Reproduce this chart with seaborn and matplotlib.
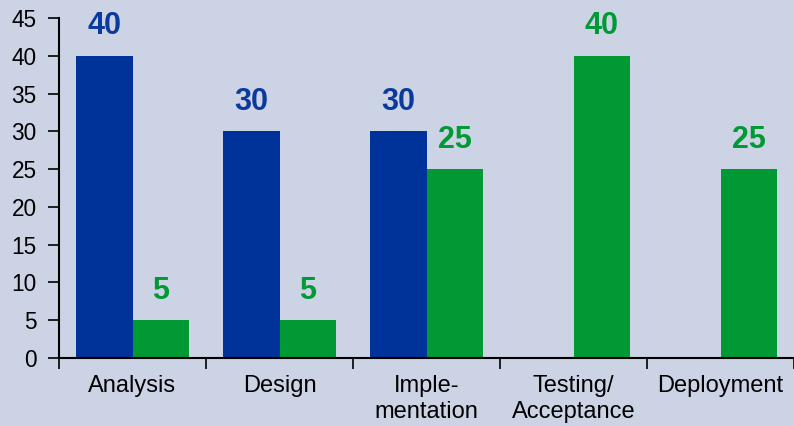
import matplotlib
matplotlib.use("Agg")
import matplotlib.pyplot as plt
import seaborn as sns
import pandas as pd
from matplotlib.ticker import FixedLocator

categories = ["Analysis", "Design", "Imple-\nmentation", "Testing/\nAcceptance", "Deployment"]
series_a = [40, 30, 30, 0, 0]
series_b = [5, 5, 25, 40, 25]
series_names = ["A", "B"]
yticks = [0, 5, 10, 15, 20, 25, 30, 35, 40, 45]

bg = "#CBD3E5"
colors = ["#003399", "#009933"]
label_colors = ["#0A3A9C", "#009933"]

sns.set_theme(style="white")
plt.rcParams["font.family"] = ["Liberation Sans", "DejaVu Sans"]

df = pd.DataFrame({
    "cat": categories * 2,
    "val": series_a + series_b,
    "series": [series_names[0]] * len(categories) + [series_names[1]] * len(categories),
})

fig = plt.figure(figsize=(7.94, 4.26), dpi=100, facecolor=bg)
ax = fig.add_axes([59 / 794, 1 - 358 / 426, 1 - 59 / 794, (358 - 18) / 426])
ax.set_facecolor(bg)

sns.barplot(data=df, x="cat", y="val", hue="series", palette=colors,
            width=0.77, saturation=1, ax=ax, legend=False, linewidth=0, gap=0)

for cont, lc in zip(ax.containers, label_colors):
    labels = [f"{v:g}" if v > 0 else "" for v in cont.datavalues]
    ax.bar_label(cont, labels=labels, padding=10.5, color=lc,
                 fontsize=22, fontweight="bold")

ax.set_xlim(-0.5, len(categories) - 0.5)
ax.set_ylim(0, 45)
ax.set_yticks(yticks)
ax.set_xlabel("")
ax.set_ylabel("")
ax.tick_params(axis="y", which="major", length=8, width=1.2, color="black",
               labelsize=16.3, labelcolor="black", direction="out", left=True, pad=8)
ax.tick_params(axis="x", which="major", length=0, labelsize=17, labelcolor="black", pad=12.5)
ax.xaxis.set_minor_locator(FixedLocator([i - 0.5 for i in range(len(categories) + 1)]))
ax.tick_params(axis="x", which="minor", length=8, width=1.2, color="black",
               direction="out", bottom=True)
for lab in ax.get_xticklabels():
    lab.set_linespacing(1.2)
    lab.set_verticalalignment("top")

for s in ["top", "right"]:
    ax.spines[s].set_visible(False)
for s in ["left", "bottom"]:
    ax.spines[s].set_color("black")
    ax.spines[s].set_linewidth(1.5)

fig.savefig("out.png", dpi=100, facecolor=bg)
